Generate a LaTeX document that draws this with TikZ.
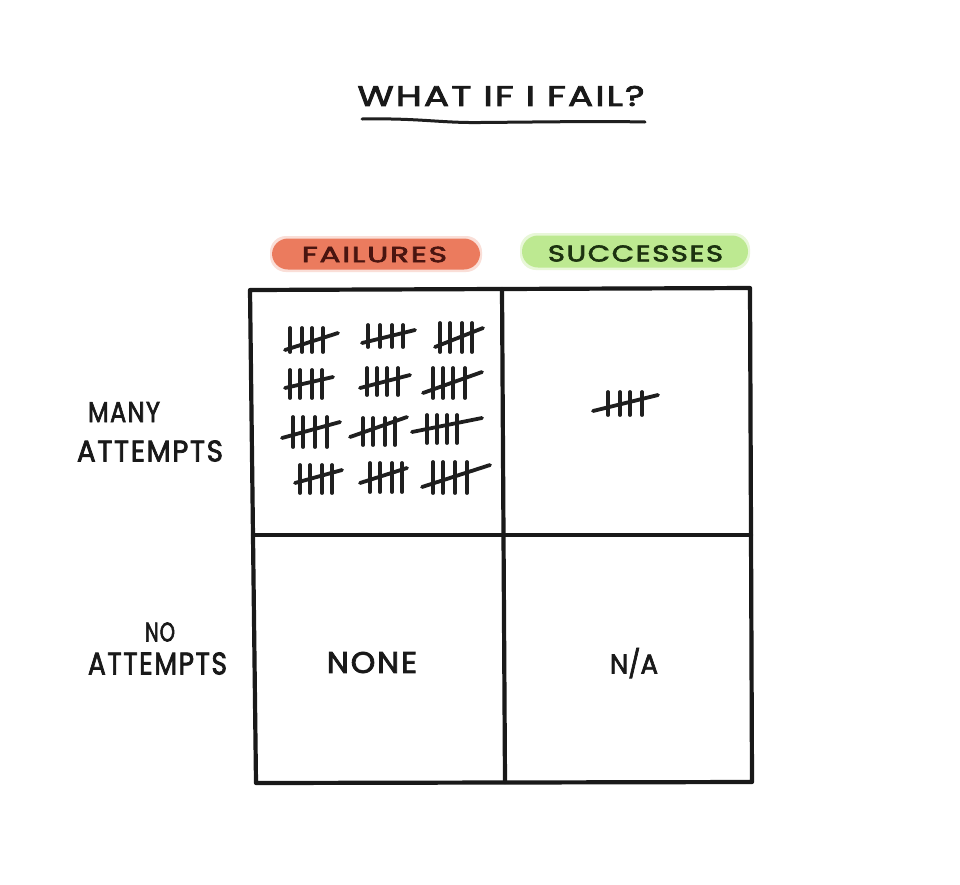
\documentclass[tikz,border=0pt]{standalone}
\usepackage{fontspec}
\usepackage{graphicx}
\newfontfamily\hand{Poppins}[FakeBold=2.6, LetterSpace=6]
\definecolor{failred}{HTML}{EB7B5E}
\definecolor{failtext}{HTML}{4A1510}
\definecolor{succgreen}{HTML}{BDE991}
\definecolor{succtext}{HTML}{1C3210}
\newcommand\fitw[3]{\resizebox{#1pt}{#2pt}{\hand #3}}
\newcommand\tallyg[4]{%
  \foreach \xx in {#1} \draw[tal] (\xx,#2) -- (\xx,#3);
  \draw[tal] #4;}
\tikzset{
  grid/.style={line width=4.2pt, line cap=round, line join=round, black!90},
  tal/.style={line width=3.8pt, line cap=round, black!88},
  lbl/.style={inner sep=0pt, anchor=center, black!90},
  pill/.style={rounded corners=16pt},
}
\begin{document}
\begin{tikzpicture}[x=1pt,y=-1pt]
\useasboundingbox[fill=white] (0,0) rectangle (960,884);

% title
\node[lbl] (title) at (501,96) {\fitw{287}{20}{WHAT IF I FAIL?}};
\coordinate (ul1) at (362,119);
\coordinate (ul2) at (645,122);
\draw[line width=3pt, line cap=round, black!88] (ul1) .. controls (420,118) and (440,123) .. (480,122.5) .. controls (540,122) and (600,121) .. (ul2);

% pills
\fill[failred!25, pill] (270,236) rectangle (482,272);
\fill[failred, pill] (272,238.5) rectangle (480,269.5);
\node[lbl, text=failtext] (failures) at (374.5,254.5) {\fitw{145}{15.5}{FAILURES}};
\fill[succgreen!35, pill] (520,233) rectangle (750,270);
\fill[succgreen, pill] (522,235.5) rectangle (748,267.5);
\node[lbl, text=succtext] (successes) at (635.5,253.5) {\fitw{175}{16}{SUCCESSES}};

% row labels
\node[lbl] (many) at (124,412) {\fitw{72}{20}{MANY}};
\node[lbl] (attempts1) at (150,451) {\fitw{146}{21}{ATTEMPTS}};
\node[lbl] (no) at (160,632) {\fitw{30}{19}{NO}};
\node[lbl] (attempts2) at (157.5,663.5) {\fitw{139}{22}{ATTEMPTS}};

% grid
\coordinate (tl) at (250,290);
\coordinate (tr) at (750,288);
\coordinate (br) at (752,782);
\coordinate (bl) at (256,783);
\coordinate (tm) at (502,289);
\coordinate (bm) at (505,782);
\coordinate (ml) at (253,535);
\coordinate (mr) at (751,535);
\draw[grid] (tl) -- (tr) -- (br) -- (bl) -- cycle;
\draw[grid] (tm) -- (bm);
\draw[grid] (ml) -- (mr);

% cell texts
\node[lbl] (none) at (372,662.5) {\fitw{90}{21}{NONE}};
\node[lbl] (na) at (634,664) {\fitw{48}{19}{N\smash{/}A}};

% tallies: failures
\tallyg{290,302,312,323}{328}{352}{(285,350) -- (338,333)}
\tallyg{368,380,392,403}{325}{347}{(362,343) -- (415,330)}
\tallyg{440,450,462,472}{323}{352}{(435,347) -- (483,328)}
\tallyg{290,300,312,322}{370}{398}{(285,388) -- (333,377)}
\tallyg{367,377,387,398}{368}{395}{(360,388) -- (410,375)}
\tallyg{433,443,453,465}{368}{398}{(423,393) -- (482,372)}
\tallyg{293,303,315,327}{417}{447}{(282,438) -- (340,422)}
\tallyg{363,373,385,395}{418}{445}{(350,437) -- (407,417)}
\tallyg{427,437,447,457}{415}{443}{(412,432) -- (482,418)}
\tallyg{300,310,322,332}{465}{493}{(295,483) -- (342,470)}
\tallyg{370,380,392,402}{463}{492}{(360,483) -- (407,468)}
\tallyg{433,443,455,467}{462}{493}{(422,487) -- (490,465)}
% tallies: successes
\tallyg{608,620,630,642}{392}{415}{(593,411) -- (658,395)}
\end{tikzpicture}
\end{document}
